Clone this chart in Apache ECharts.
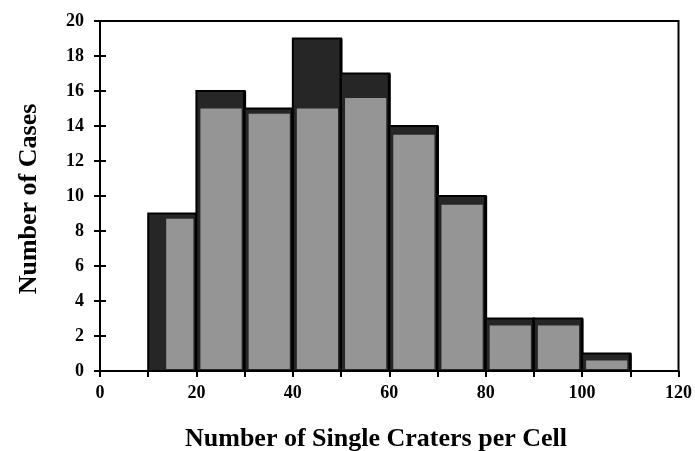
<!DOCTYPE html>
<html>
<head>
<meta charset="utf-8">
<script src="https://cdn.jsdelivr.net/npm/echarts@6.0.0/dist/echarts.min.js"></script>
<style>
  html, body { margin: 0; padding: 0; background: #fff; }
  #main { width: 695px; height: 451px; }
</style>
</head>
<body>
<div id="main"></div>
<script>
// histogram bins (left edge) and counts
var binStarts = [10, 20, 30, 40, 50, 60, 70, 80, 90, 100];
var binWidth = 10;
var counts = [9, 16, 15, 19, 17, 14, 10, 3, 3, 1];
// top of the lighter stippled part inside each bar
var innerCounts = [8.7, 15, 14.7, 15, 15.6, 13.5, 9.5, 2.6, 2.6, 0.6];
var xTicks = [0, 20, 40, 60, 80, 100, 120];
var yTicks = [0, 2, 4, 6, 8, 10, 12, 14, 16, 18, 20];

var chart = echarts.init(document.getElementById('main'));
var serif = '"Liberation Serif", "DejaVu Serif", serif';

var histData = binStarts.map(function (s, i) {
    return [s, s + binWidth, counts[i], innerCounts[i]];
});

function renderBar(params, api) {
    var x0 = api.value(0), x1 = api.value(1), c = api.value(2), inner = api.value(3);
    var tl = api.coord([x0, c]);
    var br = api.coord([x1, 0]);
    var itl = api.coord([x0, inner]);
    var inset = params.dataIndex === 0 ? 18 : 4;
    return {
        type: 'group',
        children: [
            {
                type: 'rect',
                shape: {x: tl[0], y: tl[1], width: br[0] - tl[0], height: br[1] - tl[1]},
                style: {fill: '#262626', stroke: '#000', lineWidth: 2}
            },
            {
                type: 'rect',
                shape: {x: itl[0] + inset, y: itl[1], width: br[0] - itl[0] - inset - 3, height: br[1] - itl[1] - 2},
                style: {fill: '#959595'}
            },
            {
                type: 'line',
                shape: {x1: br[0], y1: tl[1], x2: br[0], y2: br[1]},
                style: {stroke: '#000', lineWidth: 3}
            }
        ]
    };
}

chart.setOption({
    animation: false,
    backgroundColor: '#fff',
    grid: {
        left: 100, right: 12, top: 21, bottom: 80,
        show: true, borderColor: '#000', borderWidth: 2, backgroundColor: 'transparent'
    },
    xAxis: {
        type: 'value', min: 0, max: 120, interval: 10,
        axisLine: {lineStyle: {color: '#000', width: 2}},
        axisTick: {length: 6, lineStyle: {color: '#000', width: 2}},
        splitLine: {show: false},
        axisLabel: {
            color: '#000', fontFamily: serif, fontWeight: 'bold', fontSize: 18, margin: 13,
            formatter: function (v) { return xTicks.indexOf(v) >= 0 ? String(v) : ''; }
        }
    },
    yAxis: [
        {
            type: 'value', min: 0, max: 20, interval: 2,
            axisLine: {show: true, lineStyle: {color: '#000', width: 2}},
            axisTick: {show: true, length: 6, lineStyle: {color: '#000', width: 2}},
            splitLine: {show: false},
            axisLabel: {
                color: '#000', fontFamily: serif, fontWeight: 'bold', fontSize: 18, margin: 16,
                formatter: function (v) { return yTicks.indexOf(v) >= 0 ? String(v) : ''; }
            }
        },
        {
            type: 'value', min: 0, max: 20, interval: 2, position: 'left',
            axisLine: {show: false},
            axisTick: {show: true, inside: true, length: 6, lineStyle: {color: '#000', width: 2}},
            axisLabel: {show: false},
            splitLine: {show: false}
        }
    ],
    graphic: [
        {
            type: 'text', x: 29, y: 199, rotation: Math.PI / 2,
            style: {
                text: 'Number of Cases', fill: '#000', font: 'bold 26px ' + serif,
                textAlign: 'center', textVerticalAlign: 'middle'
            }
        },
        {
            type: 'text', x: 376, y: 439,
            style: {
                text: 'Number of Single Craters per Cell', fill: '#000', font: 'bold 26px ' + serif,
                textAlign: 'center', textVerticalAlign: 'middle'
            }
        }
    ],
    series: [{
        type: 'custom',
        renderItem: renderBar,
        encode: {x: [0, 1], y: 2},
        data: histData,
        z: 1
    }]
});
</script>
</body>
</html>
